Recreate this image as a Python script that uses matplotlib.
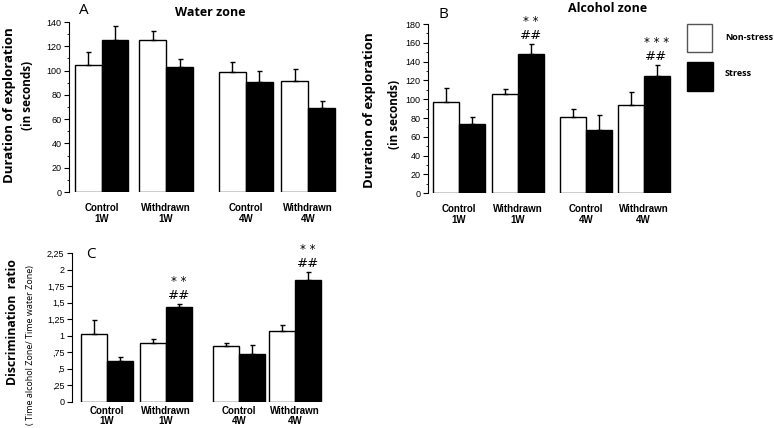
import matplotlib
matplotlib.use('Agg')
import matplotlib.pyplot as plt
from matplotlib.patches import Rectangle
from matplotlib.ticker import MultipleLocator
import numpy as np

groups = ['Control\n1W', 'Withdrawn\n1W', 'Control\n4W', 'Withdrawn\n4W']

# A - water zone (seconds)
a_nonstress = [105, 125, 98.5, 91.5]
a_nonstress_err = [10.5, 8, 8.5, 10]
a_stress = [125, 103, 90.5, 69]
a_stress_err = [12, 6.5, 9.5, 6]

# B - alcohol zone (seconds)
b_nonstress = [97.5, 105.5, 81, 94]
b_nonstress_err = [14, 5.5, 8.5, 13.5]
b_stress = [73.5, 148, 67.5, 125]
b_stress_err = [7.5, 10.5, 15.5, 11]
b_stars = ['', '* *', '', '* * *']
b_hash = ['', '##', '', '##']

# C - discrimination ratio
c_nonstress = [1.03, 0.89, 0.84, 1.07]
c_nonstress_err = [0.21, 0.065, 0.05, 0.085]
c_stress = [0.62, 1.435, 0.72, 1.84]
c_stress_err = [0.06, 0.05, 0.145, 0.13]
c_stars = ['', '* *', '', '* *']
c_hash = ['', '##', '', '##']
c_ticklabels = ['0', ',25', ',5', ',75', '1', '1,25', '1,5', '1,75', '2', '2,25']

W, H = 774, 428
fig = plt.figure(figsize=(W / 100, H / 100), dpi=100)

TICKFONT = 'Liberation Sans'
LABFONT = 'Open Sans'


def px_axes(left, top, right, bottom):
    return fig.add_axes([left / W, 1 - bottom / H, (right - left) / W, (bottom - top) / H])


def draw_panel(ax, centers, white, white_err, black, black_err, ymax, major, minor,
               stars=None, hashes=None):
    centers = np.array(centers)
    ax.bar(centers - 0.5, white, width=1, color='white', edgecolor='black', linewidth=1)
    ax.bar(centers + 0.5, black, width=1, color='black', edgecolor='black', linewidth=1)
    ax.errorbar(centers - 0.5, white, yerr=[np.zeros(4), white_err], fmt='none',
                ecolor='black', elinewidth=1, capsize=1.8, capthick=1)
    ax.errorbar(centers + 0.5, black, yerr=[np.zeros(4), black_err], fmt='none',
                ecolor='black', elinewidth=1, capsize=1.8, capthick=1)
    ax.set_ylim(0, ymax)
    ax.spines[['top', 'right', 'bottom']].set_visible(False)
    ax.spines['left'].set_bounds(0, ymax)
    ax.yaxis.set_major_locator(MultipleLocator(major))
    if minor:
        ax.yaxis.set_minor_locator(MultipleLocator(minor))
    ax.tick_params(axis='y', which='major', length=3.5, width=0.8, labelsize=6.5, pad=2)
    ax.tick_params(axis='y', which='minor', length=1.8, width=0.6)
    ax.set_xticks(centers)
    ax.set_xticklabels(groups, fontsize=7, fontweight='bold', family=TICKFONT,
                       linespacing=1.05)
    ax.tick_params(axis='x', length=0, pad=8)
    for lab in ax.get_yticklabels():
        lab.set_family(TICKFONT)
    if stars:
        for i in range(4):
            if hashes[i]:
                top = black[i] + black_err[i]
                ax.annotate(hashes[i], (centers[i] + 0.5, top), xytext=(0, 1.5),
                            textcoords='offset points', ha='center', va='bottom',
                            fontsize=9.5, family='DejaVu Sans')
                ax.annotate(stars[i], (centers[i] + 0.5, top), xytext=(0, 11.5),
                            textcoords='offset points', ha='center', va='bottom',
                            fontsize=8.5, family='DejaVu Sans')


# panel A
axA = px_axes(69, 22, 345, 192)
cA = [0, 2.39, 5.35, 7.65]
draw_panel(axA, cA, a_nonstress, a_nonstress_err, a_stress, a_stress_err, 140, 20, 10)
axA.set_xlim(-1.204, 9.02)

# panel B
axB = px_axes(428, 24, 675, 193.3)
cB = [0, 2.27, 4.88, 7.1]
draw_panel(axB, cB, b_nonstress, b_nonstress_err, b_stress, b_stress_err, 180, 20, 10,
           b_stars, b_hash)
axB.set_xlim(-1.19, 8.31)

# panel C
axC = px_axes(72, 253.2, 330, 401.7)
cC = [0, 2.27, 5.08, 7.23]
draw_panel(axC, cC, c_nonstress, c_nonstress_err, c_stress, c_stress_err, 2.25, 0.25, None,
           c_stars, c_hash)
axC.set_xlim(-1.346, 8.58)
axC.set_yticks(np.arange(0, 2.26, 0.25))
axC.set_yticklabels(c_ticklabels, family=TICKFONT, fontsize=6.5)
axC.tick_params(axis='x', pad=3)


def ftext(x, y, s, **kw):
    fig.text(x / W, 1 - y / H, s, **kw)


# panel letters and titles
ftext(84, 10, 'A', fontsize=11, family=LABFONT, ha='center', va='center')
ftext(210, 12.5, 'Water zone', fontsize=9, fontweight='bold', family=LABFONT,
      ha='center', va='center')
ftext(443, 14, 'B', fontsize=11, family=LABFONT, ha='center', va='center')
ftext(608, 8, 'Alcohol zone', fontsize=9, fontweight='bold', family=LABFONT,
      ha='center', va='center')
ftext(91, 255, 'C', fontsize=11, family=LABFONT, ha='center', va='center')

# y labels
ftext(10, 105, 'Duration of exploration', rotation=90, fontsize=9.5, fontweight='bold',
      family=LABFONT, ha='center', va='center')
ftext(28, 95, '(in seconds)', rotation=90, fontsize=8.5, fontweight='bold',
      family=LABFONT, ha='center', va='center')
ftext(369.5, 110, 'Duration of exploration', rotation=90, fontsize=9.5, fontweight='bold',
      family=LABFONT, ha='center', va='center')
ftext(394, 114, '(in seconds)', rotation=90, fontsize=8.5, fontweight='bold',
      family=LABFONT, ha='center', va='center')
ftext(13, 322, 'Discrimination  ratio', rotation=90, fontsize=8.8, fontweight='bold',
      family=LABFONT, ha='center', va='center')
ftext(31, 345, '( Time alcohol Zone/ Time water Zone)', rotation=90, fontsize=6.5,
      family=LABFONT, ha='center', va='center')

# legend
fig.patches.append(Rectangle((687 / W, 1 - 52 / H), 25 / W, 28 / H, transform=fig.transFigure,
                             facecolor='white', edgecolor='#555555', linewidth=1))
fig.patches.append(Rectangle((687 / W, 1 - 91 / H), 26 / W, 29 / H, transform=fig.transFigure,
                             facecolor='black', edgecolor='black', linewidth=1))
ftext(725, 38, 'Non-stress', fontsize=6.5, fontweight='bold', family=LABFONT, va='center')
ftext(725, 74, 'Stress', fontsize=6.5, fontweight='bold', family=LABFONT, va='center')

fig.savefig('out.png', dpi=100)
